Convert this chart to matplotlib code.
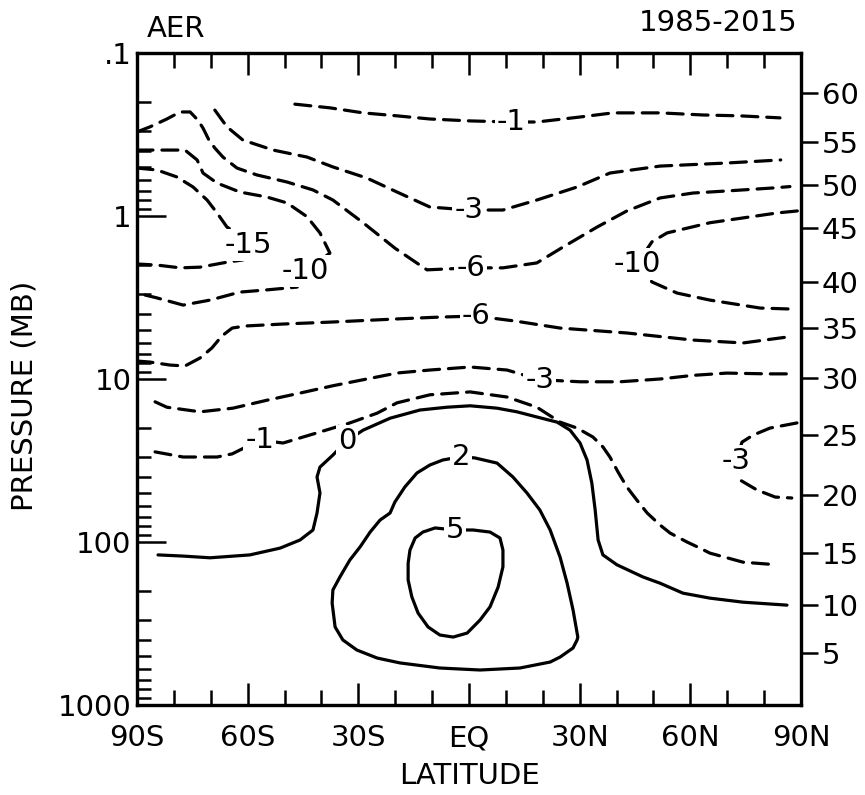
import matplotlib
matplotlib.use("Agg")
import matplotlib.pyplot as plt
from matplotlib.ticker import FixedLocator, NullLocator, NullFormatter, LogLocator

plt.rcParams['font.family'] = ['DejaVu Sans']

# Contour lines: latitude (deg, S negative) and pressure (mb)
lat_m1_top = [-47.2, -37.7, -28.7, -19.5, -10.6, 0.3, 11.4, 18.4, 30.1, 39.0, 51.8, 63.4, 73.5, 84.3]
p_m1_top = [0.206, 0.217, 0.233, 0.243, 0.254, 0.261, 0.265, 0.265, 0.247, 0.233, 0.233, 0.240, 0.243, 0.250]

lat_m3_top = [-68.9, -65.6, -61.3, -53.1, -43.9, -36.9, -27.7, -19.5, -10.6, 0.0, 9.2, 18.4, 29.3, 38.2, 51.8, 69.9, 84.5]
p_m3_top = [0.224, 0.284, 0.342, 0.394, 0.435, 0.50, 0.585, 0.713, 0.881, 0.919, 0.919, 0.798, 0.664, 0.545, 0.494, 0.473, 0.453]

lat_m6_top = [-90, -86.5, -81.9, -78.3, -75.6, -73.5, -72.1, -70.5, -68.9, -66.7, -62.9, -57.5, -49.3,
              -42.3, -36.9, -28.7, -20.0, -11.4, 0.5, 9.2, 18.4, 25.5, 34.7, 42.8, 51.8, 60.7, 69.9, 82.4, 87.0]
p_m6_top = [0.305, 0.284, 0.254, 0.230, 0.230, 0.258, 0.289, 0.342, 0.383, 0.435, 0.508, 0.560, 0.619,
            0.692, 0.798, 1.10, 1.58, 2.14, 2.08, 2.08, 1.94, 1.55, 1.17, 0.931, 0.775, 0.723, 0.702, 0.673, 0.66]

lat_m10_left = [-90, -82.4, -77.0, -73.7, -72.1, -68.3, -62.1, -54.8, -49.3, -43.9, -40.4, -37.7,
                -44.5, -46.6, -54.8, -62.1, -70.2, -77.5, -84.6, -90]
p_m10_left = [0.394, 0.394, 0.394, 0.453, 0.545, 0.628, 0.713, 0.765, 0.832, 1.01, 1.27, 1.69,
              2.18, 2.73, 2.84, 2.93, 3.28, 3.52, 3.18, 2.97]

lat_m15 = [-90, -84.6, -79.2, -74.8, -71.0, -68.3, -65.6, -62.9, -59.9, -61.3, -65.6, -72.9, -78.3, -84.6, -90]
p_m15 = [0.508, 0.522, 0.576, 0.664, 0.798, 0.958, 1.17, 1.27, 1.51, 1.86, 1.92, 2.06, 2.08, 2.00, 1.97]

lat_m10_right = [89.0, 83.5, 65.3, 53.7, 49.6, 45.5, 49.6, 56.4, 65.3, 78.9, 87.0]
p_m10_right = [0.931, 0.958, 1.10, 1.27, 1.44, 1.97, 2.54, 2.97, 3.28, 3.67, 3.72]

lat_m6_low = [-90, -86.5, -81.1, -77.0, -72.9, -69.7, -67.0, -64.2, -60.7, -50.4, -36.9, -19.5, -7.9,
              1.9, 12.5, 24.7, 42.8, 60.7, 74.3, 86.2]
p_m6_low = [7.76, 7.87, 8.21, 8.32, 7.43, 6.45, 5.45, 4.87, 4.73, 4.60, 4.47, 4.28, 4.17,
            4.11, 4.41, 4.87, 5.22, 5.77, 6.01, 5.53]

lat_m3_low = [-85.1, -81.9, -72.9, -64.0, -54.8, -45.8, -36.9, -27.7, -19.5, -10.6, 0.3, 10.3,
              19.2, 30.1, 40.9, 51.8, 60.7, 69.9, 80.8, 87.8]
p_m3_low = [13.8, 14.9, 15.9, 15.1, 13.5, 12.2, 11.0, 10.0, 9.19, 8.81, 8.44, 8.81,
            10.1, 10.4, 10.4, 10.0, 9.5, 9.2, 9.3, 9.3]

lat_m1_low = [-85.1, -77.5, -68.3, -64.2, -56.7, -50.4, -41.2, -32.3, -24.9, -19.5, -10.6, 0.3, 10.3,
              18.4, 24.7, 29.3, 33.6, 36.3, 38.2, 40.4, 42.8, 45.5, 48.3, 51.8, 54.5, 59.1, 62.6,
              65.3, 74.3, 83.5]
p_m1_low = [28.0, 30.1, 30.1, 28.8, 23.7, 24.7, 21.4, 18.6, 16.2, 14.0, 12.5, 12.0, 12.9,
            14.9, 18.4, 20.0, 22.7, 26.1, 30.1, 37.2, 46.0, 55.3, 66.4, 78.7, 88.1, 100, 109,
            117, 133, 138]

lat_m3_right = [88.9, 81.6, 77.0, 74.0, 72.4, 73.5, 78.1, 83.0, 87.5]
p_m3_right = [18.6, 20.0, 22.1, 24.4, 31.9, 41.7, 48.0, 53.0, 53.7]

lat_zero = [-84.3, -77.5, -70.2, -59.4, -51.2, -45.8, -42.3, -41.2, -40.4, -41.2, -40.4, -36.9, -33.1,
            -28.7, -21.4, -13.3, -6.0, 0.3, 7.6, 13.0, 18.4, 23.9, 27.4, 30.1, 32.0, 33.3, 34.2, 35.0,
            36.3, 40.1, 47.2, 51.8, 58.0, 65.3, 74.3, 86.2]
p_zero = [120, 122, 125, 120, 109, 97.2, 84.4, 66.4, 50.0, 39.9, 34.7, 29.3, 23.9,
          20.6, 17.4, 15.5, 14.9, 14.6, 15.1, 15.9, 17.1, 18.4, 20.6, 24.7, 31.4, 43.5, 63.6, 97.2,
          120, 138, 164, 179, 206, 221, 234, 244]

lat_two = [-2.2, -7.1, -10.6, -14.1, -17.4, -20.1, -21.4, -24.1, -26.8, -29.5, -32.3, -35.0, -36.9,
           -37.1, -36.3, -34.2, -30.4, -24.9, -18.7, -7.9, 3.0, 13.8, 22.0, 24.7, 28.2, 29.3, 29.5,
           28.2, 26.6, 24.7, 22.0, 19.2, 15.7, 11.9, 7.6, 1.6, -2.2]
p_two = [30.0, 31.4, 33.7, 37.7, 46.0, 56.9, 66.4, 73.3, 86.9, 107, 129, 164, 197,
         237, 332, 399, 460, 515, 552, 593, 610, 593, 545, 508, 447, 399, 383,
         261, 179, 124, 84.4, 63.6, 50.0, 39.9, 32.8, 30.5, 30.0]

lat_five = [-3.8, -9.2, -12.5, -14.6, -16.0, -16.5, -16.5, -15.5, -13.8, -11.1, -7.9, -4.3, -0.5,
            3.0, 5.7, 7.9, 9.2, 9.2, 8.4, 5.7, 1.1, -3.8]
p_five = [84.4, 82.0, 86.9, 94.5, 112, 135, 171, 217, 273, 332, 372, 383, 362,
          301, 250, 189, 142, 112, 94.5, 86.9, 84.4, 84.4]

# Contour labels: text, latitude, pressure
label_text = ['-1', '-3', '-6', '-15', '-10', '-10', '-6', '-3', '-1', '0', '2', '5', '-3']
label_lat = [11.4, 0.0, 0.5, -59.9, -44.5, 45.5, 1.9, 19.2, -56.7, -33.1, -2.2, -3.8, 72.4]
label_p = [0.265, 0.919, 2.08, 1.51, 2.18, 1.97, 4.11, 10.1, 23.7, 23.9, 30.0, 84.4, 31.9]

# Axis ticks
lat_ticks = [-90, -60, -30, 0, 30, 60, 90]
lat_labels = ['90S', '60S', '30S', 'EQ', '30N', '60N', '90N']
p_ticks = [0.1, 1, 10, 100, 1000]
p_labels = ['.1', '1', '10', '100', '1000']
alt_km = [5, 10, 15, 20, 25, 30, 35, 40, 45, 50, 55, 60]
alt_p = [480, 244, 117, 51.5, 22.1, 9.86, 4.87, 2.54, 1.19, 0.646, 0.352, 0.176]

fig = plt.figure(figsize=(8.65, 7.95), dpi=100)
ax = fig.add_axes([137 / 865, 90 / 795, 664 / 865, 652 / 795])

dashed = [(lat_m1_top, p_m1_top), (lat_m3_top, p_m3_top), (lat_m6_top, p_m6_top),
          (lat_m10_left, p_m10_left), (lat_m15, p_m15), (lat_m10_right, p_m10_right),
          (lat_m6_low, p_m6_low), (lat_m3_low, p_m3_low), (lat_m1_low, p_m1_low),
          (lat_m3_right, p_m3_right)]
solid = [(lat_zero, p_zero), (lat_two, p_two), (lat_five, p_five)]

for la, pr in dashed:
    ax.plot(la, pr, color='black', lw=2.3, ls=(0, (5, 2.8)), dash_capstyle='round')
for la, pr in solid:
    ax.plot(la, pr, color='black', lw=2.3, solid_capstyle='round', solid_joinstyle='round')

for s, la, pr in zip(label_text, label_lat, label_p):
    ax.text(la, pr, s, fontsize=21, ha='center', va='center', zorder=5,
            bbox=dict(fc='white', ec='none', pad=1.5))

ax.set_xlim(-90, 90)
ax.set_yscale('log')
ax.set_ylim(1000, 0.1)

ax.set_xticks(lat_ticks)
ax.set_xticklabels(lat_labels)
ax.xaxis.set_minor_locator(FixedLocator(list(range(-80, 90, 10))))
ax.tick_params(axis='x', which='both', direction='in', top=True, bottom=True, width=1.8)
ax.tick_params(axis='x', which='major', length=16, pad=14, labelsize=21)
ax.tick_params(axis='x', which='minor', length=11)

ax.set_yticks(p_ticks)
ax.set_yticklabels(p_labels)
ax.yaxis.set_minor_locator(LogLocator(base=10, subs=range(2, 10), numticks=20))
ax.yaxis.set_minor_formatter(NullFormatter())
ax.tick_params(axis='y', which='both', direction='in', left=True, right=True, width=1.8)
ax.tick_params(axis='y', which='major', length=21, pad=4, labelsize=21)
ax.tick_params(axis='y', which='minor', length=10)

ax2 = ax.twinx()
ax2.set_yscale('log')
ax2.set_ylim(1000, 0.1)
ax2.set_yticks(alt_p)
ax2.set_yticklabels([str(a) for a in alt_km])
ax2.yaxis.set_minor_locator(NullLocator())
ax2.tick_params(axis='y', direction='out', length=12, width=1.8, pad=3, labelsize=21)

for a in (ax, ax2):
    for sp in a.spines.values():
        sp.set_linewidth(2.3)

fig.text(147 / 865, 1 - 29 / 795, 'AER', fontsize=21, ha='left', va='center')
fig.text(797 / 865, 1 - 23 / 795, '1985-2015', fontsize=21, ha='right', va='center')
fig.text(25 / 865, 1 - 396 / 795, 'PRESSURE (MB)', fontsize=21, rotation=90, ha='center', va='center')
fig.text(469 / 865, 1 - 776 / 795, 'LATITUDE', fontsize=21, ha='center', va='center')

fig.savefig('out.png', dpi=100)
